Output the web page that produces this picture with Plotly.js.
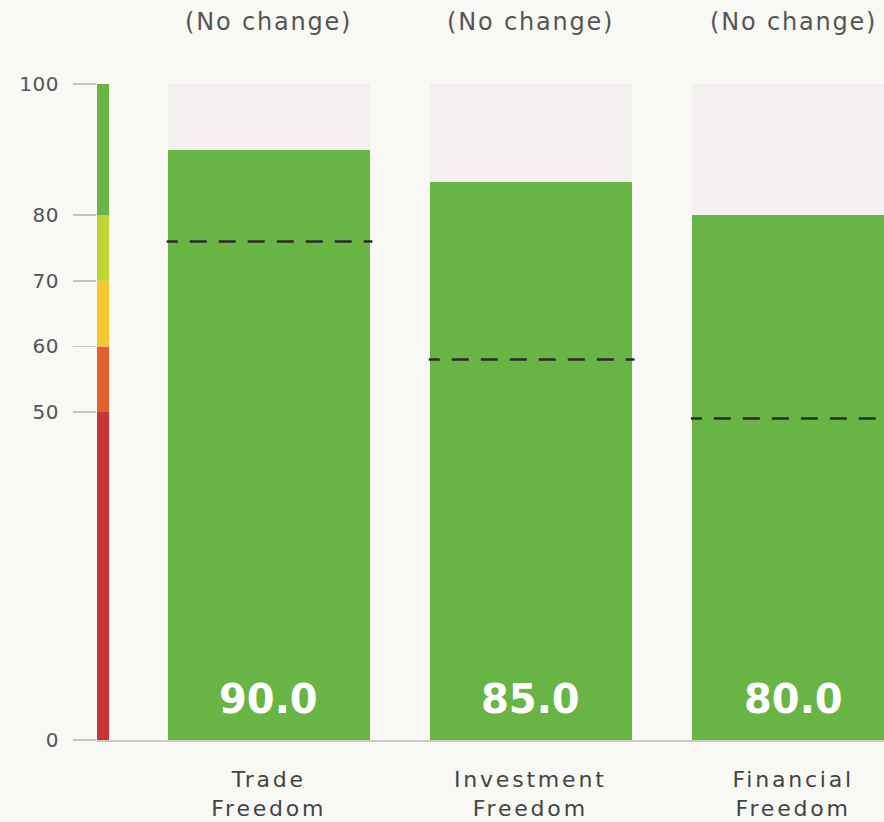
<!DOCTYPE html>
<html>
<head>
<meta charset="utf-8">
<script src="https://cdn.plot.ly/plotly-3.0.1.min.js"></script>
<style>
html,body{margin:0;padding:0;background:#f8f8f4;}
#chart{width:884px;height:822px;}
</style>
</head>
<body>
<div id="chart"></div>
<script>
// ---- data ----
const categories = ["Trade<br>Freedom", "Investment<br>Freedom", "Financial<br>Freedom"];
const scores = [90.0, 85.0, 80.0];
const worldAverage = [76, 58, 49];
const changeLabels = ["(No change)", "(No change)", "(No change)"];
const maxScore = [100, 100, 100];
const yTickVals = [0, 50, 60, 70, 80, 100];
const bandLow = [0, 50, 60, 70, 80];
const bandHigh = [50, 60, 70, 80, 100];
const bandColors = ["#c93333", "#e3602e", "#f5c832", "#bfd531", "#68b545"];

const xs = categories.map((_, i) => i);
const barWidth = 0.77;

const traces = [
  {type: "bar", x: xs, y: maxScore, width: barWidth, marker: {color: "#f3f0ef"}, hoverinfo: "skip", showlegend: false},
  {type: "bar", x: xs, y: scores, width: barWidth, marker: {color: "#68b545"}, hoverinfo: "skip", showlegend: false}
];
worldAverage.forEach((v, i) => {
  traces.push({type: "scatter", mode: "lines", x: [i - barWidth / 2 - 0.005, i + barWidth / 2 + 0.01], y: [v, v],
    line: {color: "#2a2a2a", width: 2.5, dash: "11px,12px,17px,12px,17px,12px,17px,12px,17px,12px,17px,12px,17px,12px,17px,12px"},
    hoverinfo: "skip", showlegend: false});
});

const shapes = bandLow.map((lo, i) => ({
  type: "rect", xref: "paper", yref: "y", x0: 0, x1: 0.0153, y0: lo, y1: bandHigh[i],
  fillcolor: bandColors[i], line: {width: 0}, layer: "above"
}));

const annotations = [];
const spacing = [];
const FONT = "DejaVu Sans, sans-serif";
changeLabels.forEach((t, i) => {
  annotations.push({x: i, xref: "x", y: 1, yref: "paper", yanchor: "middle", yshift: 62, text: t,
    showarrow: false, font: {family: FONT, size: 24, color: "#555"}});
  spacing.push("1.8px");
});
scores.forEach((s, i) => {
  annotations.push({x: i, xref: "x", y: 0, yref: "y", yanchor: "middle", yshift: 41, text: s.toFixed(1),
    showarrow: false, font: {family: FONT, size: 40, color: "#ffffff", weight: "bold"}});
  spacing.push("0px");
});
categories.forEach((c, i) => {
  annotations.push({x: i, xref: "x", y: 0, yref: "y", yanchor: "middle", yshift: -54, text: c,
    showarrow: false, font: {family: FONT, size: 22, color: "#444"}});
  spacing.push("2.8px");
});

const layout = {
  width: 884, height: 822,
  margin: {l: 97, r: 0, t: 84, b: 82, pad: 0},
  paper_bgcolor: "#f8f8f4", plot_bgcolor: "#f8f8f4",
  barmode: "overlay", bargap: 0,
  showlegend: false,
  xaxis: {range: [-0.656, 2.347], showticklabels: false, ticks: "", showgrid: false, zeroline: false,
    showline: true, linecolor: "#c8c8c8", linewidth: 1.5, fixedrange: true},
  yaxis: {range: [0, 100], tickvals: yTickVals, ticktext: yTickVals.map(String), ticks: "outside", ticklen: 23,
    tickcolor: "#c4c4c4", tickwidth: 1.5, showgrid: false, zeroline: false, showline: false,
    ticklabelstandoff: 10, tickfont: {family: FONT, size: 20, color: "#555"}, fixedrange: true},
  shapes: shapes,
  annotations: annotations
};

Plotly.newPlot("chart", traces, layout, {displayModeBar: false, staticPlot: true}).then(() => {
  document.querySelectorAll("#chart g.annotation").forEach(g => {
    const idx = +g.getAttribute("data-index");
    const t = g.querySelector("text");
    if (t && spacing[idx]) t.style.letterSpacing = spacing[idx];
  });
  document.querySelectorAll("#chart .ytick text").forEach(t => t.style.letterSpacing = "0.5px");
});
</script>
</body>
</html>
